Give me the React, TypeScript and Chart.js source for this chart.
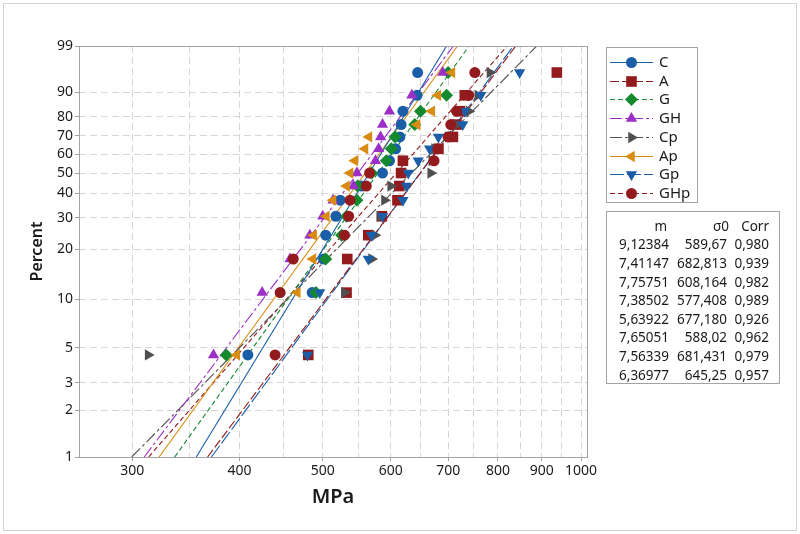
import React, { useEffect, useRef } from 'react';
import { Chart, registerables } from 'chart.js';

Chart.register(...registerables);

// ---------- data ----------
const seriesNames = ['C', 'A', 'G', 'GH', 'Cp', 'Ap', 'Gp', 'GHp'];

// plotting positions (percent) of the 15 ranked specimens
const rankPercents = [4.5, 11.0, 17.5, 24.0, 30.5, 37.0, 43.5, 50.0, 56.5, 63.0, 69.5, 76.0, 82.5, 89.0, 95.5];

const C_MPa = [409, 486, 501, 504, 518, 524, 555, 587, 598, 608, 615, 617, 620, 644, 645];
const A_MPa = [481, 533, 534, 565, 586, 611, 614, 617, 620, 682, 709, 716, 722, 732, 937];
const G_MPa = [386, 491, 504, 526, 533, 548, 549, 570, 593, 601, 607, 640, 650, 697, 700];
const GH_MPa = [373, 425, 458, 483, 500, 514, 543, 548, 576, 581, 584, 587, 598, 635, 690];
const Cp_MPa = [313, 530, 570, 575, 583, 590, 600, 668, 670, 675, 700, 716, 740, 758, 783];
const Ap_MPa = [397, 467, 487, 488, 505, 514, 533, 538, 545, 560, 566, 644, 670, 681, 707];
const Gp_MPa = [480, 496, 565, 570, 587, 620, 626, 629, 646, 666, 682, 728, 732, 764, 848];
const GHp_MPa = [440, 446, 462, 530, 536, 538, 562, 567, 674, 681, 700, 705, 716, 740, 752];

// Weibull parameter table (as printed)
const mText = ['9,12384', '7,41147', '7,75751', '7,38502', '5,63922', '7,65051', '7,56339', '6,36977'];
const sigmaText = ['589,67', '682,813', '608,164', '577,408', '677,180', '588,02', '681,431', '645,25'];
const corrText = ['0,980', '0,939', '0,982', '0,989', '0,926', '0,962', '0,979', '0,957'];
const tableHeaders = ['m', 'σ0', 'Corr'];

// axis ticks
const yTickPercents = [1, 2, 3, 5, 10, 20, 30, 40, 50, 60, 70, 80, 90, 99];
const xGridValues = [300, 350, 400, 450, 500, 550, 600, 650, 700, 750, 800, 850, 900, 950, 1000];
const xLabelValues = [300, 400, 500, 600, 700, 800, 900, 1000];
const xMin = 260;
const xMax = 1016;
const xTitle = 'MPa';
const yTitle = 'Percent';

// ---------- styles ----------
const seriesValues = [C_MPa, A_MPa, G_MPa, GH_MPa, Cp_MPa, Ap_MPa, Gp_MPa, GHp_MPa];
const seriesColors = ['#1a5ea8', '#931b1e', '#138a2e', '#9b2fc6', '#505050', '#d98c12', '#1a5ea8', '#931b1e'];
const seriesDash: number[][] = [[], [9, 3], [5, 3], [12, 3, 3, 3], [12, 3, 3, 3], [], [14, 3], [5, 3]];
const seriesMarker = [
  { style: 'circle', rot: 0, r: 5.5 },
  { style: 'rect', rot: 0, r: 7.5 },
  { style: 'rectRot', rot: 0, r: 6.5 },
  { style: 'triangle', rot: 0, r: 6.5 },
  { style: 'triangle', rot: 90, r: 6.5 },
  { style: 'triangle', rot: 270, r: 6.5 },
  { style: 'triangle', rot: 180, r: 6.5 },
  { style: 'circle', rot: 0, r: 5.5 },
];

const FONT = "'Noto Sans', 'Open Sans', sans-serif";
const TEXT = '#1a1a1a';
const GRID = '#d6d6d6';
const FRAME = '#a3a3a3';

const wb = (p: number) => Math.log(-Math.log(1 - p));
const num = (s: string) => parseFloat(s.replace(',', '.'));

function drawMarker(ctx: CanvasRenderingContext2D, style: string, x: number, y: number, r: number, rotDeg: number, color: string) {
  ctx.save();
  ctx.fillStyle = color;
  ctx.translate(x, y);
  ctx.rotate((rotDeg * Math.PI) / 180);
  ctx.beginPath();
  if (style === 'circle') {
    ctx.arc(0, 0, r, 0, Math.PI * 2);
  } else if (style === 'rect') {
    const s = r * Math.SQRT1_2;
    ctx.rect(-s, -s, 2 * s, 2 * s);
  } else if (style === 'rectRot') {
    ctx.moveTo(0, -r);
    ctx.lineTo(r, 0);
    ctx.lineTo(0, r);
    ctx.lineTo(-r, 0);
    ctx.closePath();
  } else {
    for (let k = 0; k < 3; k++) {
      const a = (k * 2 * Math.PI) / 3;
      const px = Math.sin(a) * r;
      const py = -Math.cos(a) * r;
      if (k === 0) ctx.moveTo(px, py);
      else ctx.lineTo(px, py);
    }
    ctx.closePath();
  }
  ctx.fill();
  ctx.restore();
}

const decorPlugin = {
  id: 'decor',
  beforeDraw(chart: any) {
    const ctx = chart.ctx as CanvasRenderingContext2D;
    ctx.save();
    ctx.fillStyle = '#ffffff';
    ctx.fillRect(0, 0, chart.width, chart.height);
    ctx.restore();
  },
  afterDraw(chart: any) {
    const ctx = chart.ctx as CanvasRenderingContext2D;
    const a = chart.chartArea;
    ctx.save();
    // outer frame
    ctx.strokeStyle = '#d2d2d2';
    ctx.lineWidth = 1;
    ctx.strokeRect(3.5, 3.5, 793, 527);
    // plot frame
    ctx.strokeStyle = FRAME;
    ctx.strokeRect(Math.round(a.left) + 0.5, Math.round(a.top) + 0.5, Math.round(a.right - a.left), Math.round(a.bottom - a.top));

    // legend box
    ctx.strokeStyle = FRAME;
    ctx.strokeRect(606.5, 47.5, 91, 155);
    const legY0 = 62;
    const legStep = 18.7;
    seriesNames.forEach((name, i) => {
      const y = Math.round(legY0 + i * legStep) + 0.5;
      ctx.save();
      ctx.strokeStyle = seriesColors[i];
      ctx.lineWidth = 1.2;
      ctx.setLineDash(seriesDash[i]);
      ctx.beginPath();
      ctx.moveTo(610, y);
      ctx.lineTo(653, y);
      ctx.stroke();
      ctx.restore();
      const mk = seriesMarker[i];
      drawMarker(ctx, mk.style, 631.5, y, mk.r, mk.rot, seriesColors[i]);
      ctx.fillStyle = TEXT;
      ctx.font = `15px ${FONT}`;
      ctx.textAlign = 'left';
      ctx.textBaseline = 'middle';
      ctx.fillText(name, 659, y);
    });

    // parameter table
    ctx.strokeStyle = FRAME;
    ctx.strokeRect(606.5, 211.5, 173, 172);
    ctx.fillStyle = TEXT;
    ctx.font = `13.5px ${FONT}`;
    ctx.textAlign = 'right';
    ctx.textBaseline = 'middle';
    const colR = [669, 727, 769];
    const headR = [667, 729, 769];
    tableHeaders.forEach((h, j) => ctx.fillText(h, headR[j], 227));
    for (let i = 0; i < mText.length; i++) {
      const y = 245.5 + i * 18.6;
      ctx.fillText(mText[i], colR[0], y);
      ctx.fillText(sigmaText[i], colR[1], y);
      ctx.fillText(corrText[i], colR[2], y);
    }
    ctx.restore();
  },
};

export default function App() {
  const canvasRef = useRef<HTMLCanvasElement | null>(null);

  useEffect(() => {
    const canvas = canvasRef.current;
    if (!canvas) return;

    const yLo = wb(yTickPercents[0] / 100);
    const yHi = wb(yTickPercents[yTickPercents.length - 1] / 100);

    const lineSets = seriesNames.map((name, i) => {
      const m = num(mText[i]);
      const s0 = num(sigmaText[i]);
      return {
        label: name + ' fit',
        data: [
          { x: s0 * Math.exp(yLo / m), y: yLo },
          { x: s0 * Math.exp(yHi / m), y: yHi },
        ],
        showLine: true,
        borderColor: seriesColors[i],
        borderWidth: 1.1,
        borderDash: seriesDash[i],
        pointRadius: 0,
        fill: false,
        order: 50,
      };
    });

    const pointSets = seriesNames.map((name, i) => ({
      label: name,
      data: seriesValues[i].map((v, k) => ({ x: v, y: wb(rankPercents[k] / 100) })),
      showLine: false,
      pointStyle: seriesMarker[i].style,
      pointRotation: seriesMarker[i].rot,
      pointRadius: seriesMarker[i].r,
      pointBackgroundColor: seriesColors[i],
      pointBorderColor: seriesColors[i],
      pointBorderWidth: 0,
      order: 20 - i,
    }));

    const chart = new Chart(canvas, {
      type: 'scatter',
      data: { datasets: [...lineSets, ...pointSets] as any },
      plugins: [decorPlugin],
      options: {
        responsive: false,
        animation: false,
        devicePixelRatio: 1,
        layout: { padding: { top: 46, right: 213, bottom: 0, left: 0 }, autoPadding: false } as any,
        plugins: {
          legend: { display: false },
          tooltip: { enabled: false },
        },
        scales: {
          x: {
            type: 'logarithmic',
            min: xMin,
            max: xMax,
            afterBuildTicks: (scale: any) => {
              scale.ticks = xGridValues.map((v) => ({ value: v }));
            },
            afterFit: (scale: any) => {
              scale.height = 77;
            },
            ticks: {
              autoSkip: false,
              maxRotation: 0,
              minRotation: 0,
              padding: 2,
              color: TEXT,
              font: { family: FONT, size: 14 },
              callback: (value: any) => (xLabelValues.includes(Number(value)) ? String(value) : ''),
            },
            grid: {
              color: GRID,
              lineWidth: 1,
              tickLength: 4,
              tickColor: (ctx: any) => (ctx.tick && xLabelValues.includes(ctx.tick.value) ? FRAME : 'rgba(0,0,0,0)'),
              tickBorderDash: [],
            } as any,
            border: { display: false, dash: [7, 4] },
            title: {
              display: true,
              text: xTitle,
              color: TEXT,
              font: { family: FONT, size: 20, weight: 600 as any },
              padding: { top: 0, bottom: 25 },
            },
          },
          y: {
            type: 'linear',
            min: yLo,
            max: yHi,
            afterBuildTicks: (scale: any) => {
              scale.ticks = yTickPercents.map((p) => ({ value: wb(p / 100) }));
            },
            afterFit: (scale: any) => {
              scale.width = 79;
            },
            ticks: {
              autoSkip: false,
              padding: 2,
              color: TEXT,
              font: { family: FONT, size: 14 },
              callback: (_v: any, index: number) => String(yTickPercents[index]),
            },
            grid: {
              color: GRID,
              lineWidth: 1,
              tickLength: 4,
              tickColor: FRAME,
              tickBorderDash: [],
            } as any,
            border: { display: false, dash: [7, 4] },
            title: {
              display: true,
              text: yTitle,
              color: TEXT,
              font: { family: FONT, size: 16, weight: 600 as any },
              padding: { top: 28, bottom: 0 },
            },
          },
        },
      },
    });

    return () => {
      chart.destroy();
    };
  }, []);

  return (
    <div style={{ position: 'absolute', left: 0, top: 0, width: 800, height: 534, background: '#fff' }}>
      <canvas ref={canvasRef} width={800} height={534} style={{ width: 800, height: 534, display: 'block' }} />
    </div>
  );
}
